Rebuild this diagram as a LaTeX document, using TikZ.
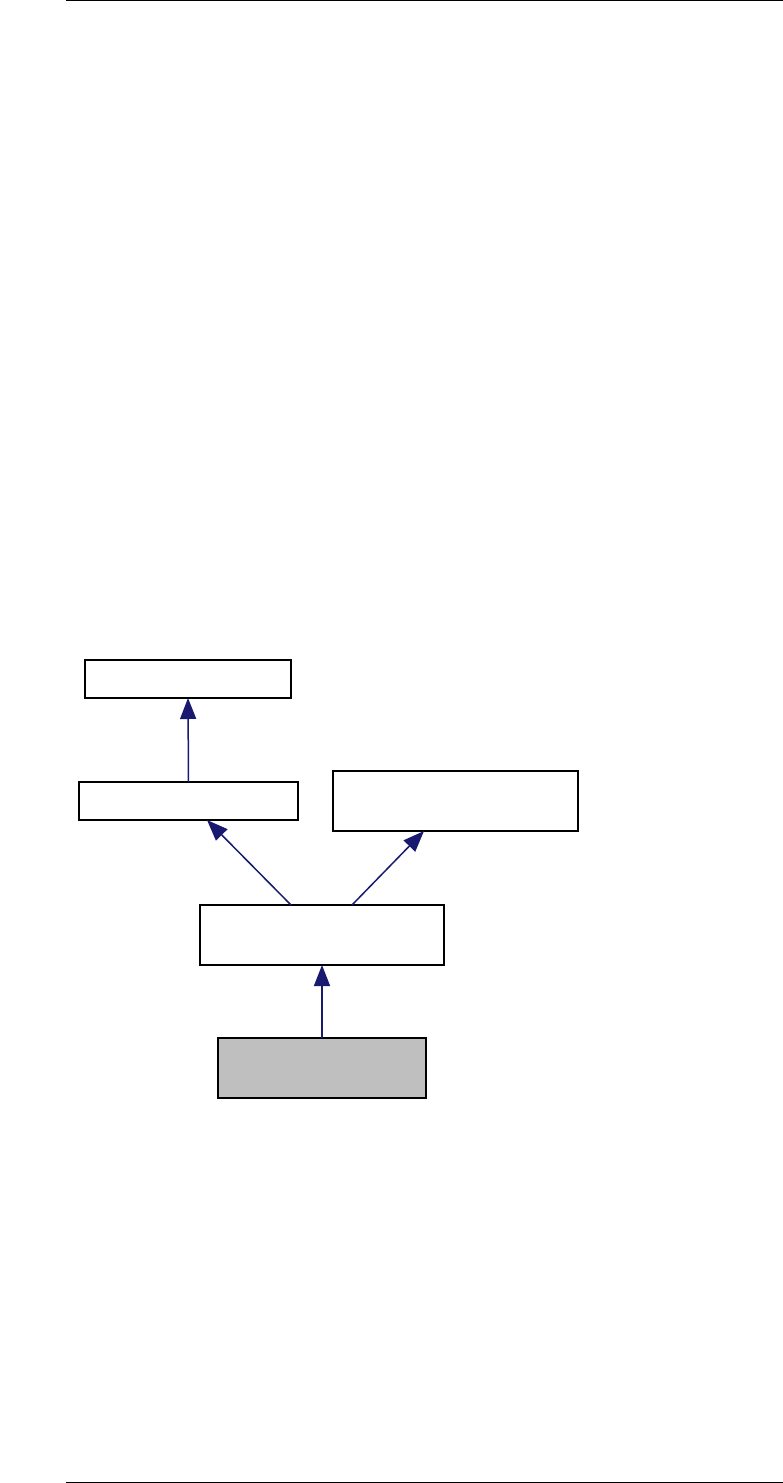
\documentclass[tikz,border=0pt]{standalone}
\usetikzlibrary{arrows.meta,calc}
\definecolor{edgeblue}{HTML}{191970}
\definecolor{boxgray}{HTML}{BFBFBF}
\begin{document}
\begin{tikzpicture}[x=1pt,y=-1pt,
  box/.style={draw=black,line width=1.5pt,fill=white,rectangle,inner sep=0pt,outer sep=0pt},
  arr/.style={draw=edgeblue,line width=1.5pt,-{Triangle[length=21pt,width=16pt]}},
  rule/.style={draw=black,line width=1.3pt}]
\useasboundingbox (0,0) rectangle (783,1483);
\draw[rule] (66,0.7) -- (783,0.7);
\draw[rule] (66,1482.3) -- (783,1482.3);
\node[box,minimum width=206pt,minimum height=38pt] (a) at (188,679) {};
\node[box,minimum width=219pt,minimum height=38pt] (b) at (188.5,801) {};
\node[box,minimum width=245pt,minimum height=60pt] (c) at (455.5,801) {};
\node[box,minimum width=244pt,minimum height=60pt] (d) at (322,935) {};
\node[box,fill=boxgray,minimum width=208pt,minimum height=60pt] (e) at (322,1068) {};
\draw[arr] (b.north) -- (a.south);
\draw[arr] ($(d.north west)+(91,0)$) -- ($(b.south west)+(128,0)$);
\draw[arr] ($(d.north west)+(152,0)$) -- ($(c.south west)+(91,0)$);
\draw[arr] (e.north) -- (d.south);
\end{tikzpicture}
\end{document}
